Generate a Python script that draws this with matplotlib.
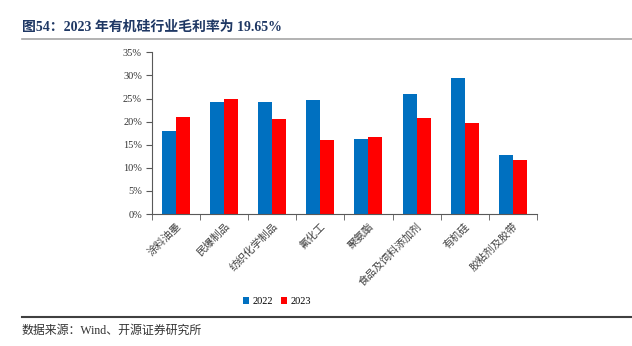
import matplotlib
matplotlib.use("Agg")
import matplotlib.pyplot as plt
import numpy as np
from matplotlib.lines import Line2D

categories = ["涂料油墨", "民爆制品", "纺织化学制品", "氟化工", "聚氨酯", "食品及饲料添加剂", "有机硅", "胶粘剂及胶带"]
v2022 = [17.9, 24.2, 24.3, 24.6, 16.3, 26.0, 29.4, 12.7]
v2023 = [21.1, 25.0, 20.5, 16.1, 16.6, 20.7, 19.65, 11.7]
series_names = ["2022", "2023"]
yticks = [0, 5, 10, 15, 20, 25, 30, 35]

FAM = ["Liberation Serif", "Noto Sans CJK SC", "DejaVu Sans"]
plt.rcParams['font.family'] = FAM

fig = plt.figure(figsize=(6.32, 3.46), dpi=100)
ax = fig.add_axes([151.7/632, 1-214/346, (537-151.7)/632, (214-52.3)/346])

x = np.arange(len(categories))
w = 0.29
ax.bar(x - w/2, v2022, w, color="#0070C0", label=series_names[0])
ax.bar(x + w/2, v2023, w, color="#FF0000", label=series_names[1])

ax.set_xlim(-0.5, len(categories) - 0.5)
ax.set_ylim(0, 35)
ax.set_yticks(yticks)
ax.set_yticklabels([f"{t}%" for t in yticks], fontsize=7.5, color="#333333")
ax.set_xticks(x)
ax.set_xticklabels(categories, rotation=45, ha="right", va="top", rotation_mode="anchor",
                   fontsize=7.6, family=["Noto Sans CJK SC"], color="#404040")
ax.tick_params(axis="x", length=0, pad=5)
ax.set_xticks(np.arange(-0.5, len(categories), 1.0), minor=True)
ax.tick_params(axis="x", which="minor", length=4, direction="out", color="#595959")
ax.tick_params(axis="y", length=4, direction="out", color="#595959", pad=3)
for s in ["top", "right"]:
    ax.spines[s].set_visible(False)
for s in ["left", "bottom"]:
    ax.spines[s].set_color("#595959")
    ax.spines[s].set_linewidth(0.8)

leg = fig.legend(loc="center", bbox_to_anchor=(277/632, 1-301.5/346), ncol=2, frameon=False,
                 fontsize=7.5, handlelength=0.6, handleheight=0.6, handletextpad=0.3, columnspacing=0.8)

# title
fig.text(22/632, 1-27/346, "图54：2023 年有机硅行业毛利率为 19.65%", fontsize=10, fontweight="bold",
         color="#1F3864", ha="left", va="center", family=["Liberation Serif", "Noto Sans CJK SC"])
fig.add_artist(Line2D([22/632, 1.0], [1-38.5/346, 1-38.5/346], color="#A6A6A6", lw=1.2))
fig.add_artist(Line2D([22/632, 1.0], [1-316.5/346, 1-316.5/346], color="#404040", lw=1.5))
fig.text(22/632, 1-331/346, "数据来源：Wind、开源证券研究所", fontsize=8.6, color="#333333",
         ha="left", va="center", family=["Liberation Serif", "Noto Sans CJK SC"])

fig.savefig("out.png", dpi=100)
